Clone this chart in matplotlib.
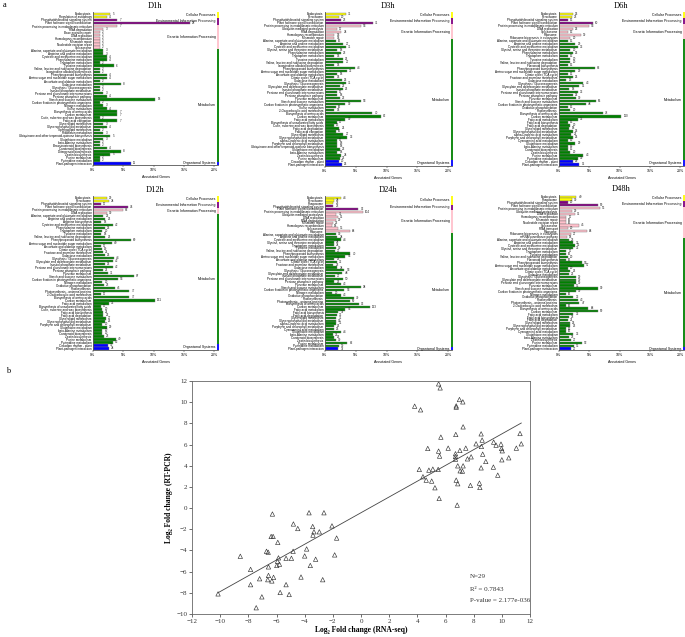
import numpy as np
import matplotlib.pyplot as plt

plt.rcParams['font.family'] = ['Liberation Sans', 'DejaVu Sans']
SERIF = ['Liberation Serif', 'DejaVu Serif']

W, H = 685, 637

cat_names = ['Cellular Processes', 'Environmental Information Processing',
             'Genetic Information Processing', 'Metabolism', 'Organismal Systems']
cat_colors = ['#FFFF00', '#800080', '#FFC0CB', '#008000', '#0000FF']

# ---- panel a data: pathway names, gene counts, pathways per category, total annotated genes
d1h_names = ['Endocytosis', 'Regulation of autophagy',
             'Phosphatidylinositol signaling system', 'Plant hormone signal transduction',
             'Protein processing in endoplasmic reticulum', 'RNA degradation', 'Base excision repair',
             'DNA replication', 'Homologous recombination', 'Mismatch repair',
             'Nucleotide excision repair', 'Spliceosome',
             'Alanine, aspartate and glutamate metabolism', 'Arginine and proline metabolism',
             'Cysteine and methionine metabolism', 'Phenylalanine metabolism', 'Tryptophan metabolism',
             'Tyrosine metabolism', 'Valine, leucine and isoleucine degradation',
             'Isoquinoline alkaloid biosynthesis', 'Phenylpropanoid biosynthesis',
             'Amino sugar and nucleotide sugar metabolism', 'Ascorbate and aldarate metabolism',
             'Galactose metabolism', 'Glycolysis / Gluconeogenesis', 'Inositol phosphate metabolism',
             'Pentose and glucuronate interconversions', 'Pentose phosphate pathway',
             'Starch and sucrose metabolism', 'Carbon fixation in photosynthetic organisms',
             'Nitrogen metabolism', 'Sulfur metabolism', 'Biosynthesis of amino acids',
             'Carbon metabolism', 'Cutin, suberine and wax biosynthesis', 'Fatty acid elongation',
             'Glycerolipid metabolism', 'Glycerophospholipid metabolism', 'Sphingolipid metabolism',
             'Riboflavin metabolism', 'Ubiquinone and other terpenoid-quinone biosynthesis',
             'Glutathione metabolism', 'beta-Alanine metabolism', 'Brassinosteroid biosynthesis',
             'Carotenoid biosynthesis', 'Diterpenoid biosynthesis', 'Zeatin biosynthesis',
             'Purine metabolism', 'Pyrimidine metabolism',
             'Plant-pathogen interaction']
d1h_counts = [5, 4, 7, 28, 7, 3, 2, 2, 2, 2, 2, 2,
              3, 3, 4, 4, 2, 6, 2, 2, 4, 4, 2, 8, 2, 2, 3, 4, 18, 2, 3, 4, 7, 7, 2, 7,
              3, 4, 2, 3, 5, 3, 2, 2, 4, 8, 5, 2, 2,
              11]
d1h_sizes = [2, 2, 8, 37, 1]
d1h_total = 175

d3h_names = ['Endocytosis', 'Peroxisome',
             'Phosphatidylinositol signaling system', 'Plant hormone signal transduction',
             'Protein processing in endoplasmic reticulum', 'Ubiquitin mediated proteolysis',
             'RNA degradation', 'Homologous recombination', 'Mismatch repair',
             'Alanine, aspartate and glutamate metabolism', 'Arginine and proline metabolism',
             'Cysteine and methionine metabolism', 'Glycine, serine and threonine metabolism',
             'Phenylalanine metabolism', 'Tryptophan metabolism', 'Tyrosine metabolism',
             'Valine, leucine and isoleucine degradation', 'Isoquinoline alkaloid biosynthesis',
             'Phenylpropanoid biosynthesis', 'Amino sugar and nucleotide sugar metabolism',
             'Ascorbate and aldarate metabolism', 'Citrate cycle (TCA cycle)', 'Galactose metabolism',
             'Glycolysis / Gluconeogenesis', 'Glyoxylate and dicarboxylate metabolism',
             'Inositol phosphate metabolism', 'Pentose and glucuronate interconversions',
             'Pentose phosphate pathway', 'Pyruvate metabolism', 'Starch and sucrose metabolism',
             'Carbon fixation in photosynthetic organisms', 'Sulfur metabolism',
             '2-Oxocarboxylic acid metabolism', 'Biosynthesis of amino acids', 'Carbon metabolism',
             'Fatty acid metabolism', 'Biosynthesis of unsaturated fatty acids',
             'Cutin, suberine and wax biosynthesis', 'Fatty acid degradation', 'Fatty acid elongation',
             'Glycerolipid metabolism', 'Glycerophospholipid metabolism',
             'alpha-Linolenic acid metabolism', 'Porphyrin and chlorophyll metabolism',
             'Ubiquinone and other terpenoid-quinone biosynthesis', 'Glutathione metabolism',
             'beta-Alanine metabolism', 'Zeatin biosynthesis', 'Purine metabolism',
             'Circadian rhythm - plant', 'Plant-pathogen interaction']
d3h_counts = [31, 20, 23, 71, 53, 17, 24, 14, 14,
              16, 27, 31, 18, 23, 14, 26, 27, 14, 44, 32, 18, 14, 25, 31, 22, 26, 17, 18, 22,
              53, 30, 16, 14, 70, 82, 30, 17, 13, 21, 16, 27, 33, 17, 18, 18, 22, 18, 24, 22,
              20, 25]
d3h_sizes = [2, 2, 5, 40, 2]
d3h_total = 910

d6h_names = ['Endocytosis', 'Peroxisome',
             'Phosphatidylinositol signaling system', 'Plant hormone signal transduction',
             'Protein processing in endoplasmic reticulum', 'DNA replication', 'Spliceosome',
             'Ribosome', 'Ribosome biogenesis in eukaryotes',
             'Alanine, aspartate and glutamate metabolism', 'Arginine and proline metabolism',
             'Cysteine and methionine metabolism', 'Glycine, serine and threonine metabolism',
             'Phenylalanine metabolism', 'Tryptophan metabolism', 'Tyrosine metabolism',
             'Valine, leucine and isoleucine degradation', 'Flavonoid biosynthesis',
             'Phenylpropanoid biosynthesis', 'Amino sugar and nucleotide sugar metabolism',
             'Citrate cycle (TCA cycle)', 'Fructose and mannose metabolism', 'Galactose metabolism',
             'Glycolysis / Gluconeogenesis', 'Glyoxylate and dicarboxylate metabolism',
             'Inositol phosphate metabolism', 'Pentose and glucuronate interconversions',
             'Pentose phosphate pathway', 'Pyruvate metabolism', 'Starch and sucrose metabolism',
             'Carbon fixation in photosynthetic organisms', 'Oxidative phosphorylation',
             'Photosynthesis', 'Biosynthesis of amino acids', 'Carbon metabolism',
             'Fatty acid metabolism', 'Fatty acid biosynthesis', 'Fatty acid degradation',
             'Glycerolipid metabolism', 'Glycerophospholipid metabolism',
             'alpha-Linolenic acid metabolism', 'Porphyrin and chlorophyll metabolism',
             'Cyanoamino acid metabolism', 'Glutathione metabolism', 'beta-Alanine metabolism',
             'Carotenoid biosynthesis', 'Zeatin biosynthesis', 'Purine metabolism',
             'Pyrimidine metabolism',
             'Circadian rhythm - plant', 'Plant-pathogen interaction']
d6h_counts = [25, 23, 15, 60, 53, 25, 15, 39, 20,
              15, 29, 33, 20, 25, 15, 20, 20, 15, 63, 29, 15, 25, 13, 43, 36, 18, 33, 25, 30,
              65, 48, 15, 20, 78, 110, 33, 15, 20, 18, 25, 22, 25, 15, 29, 15, 15, 20, 43, 33,
              25, 36]
d6h_sizes = [2, 2, 5, 40, 2]
d6h_total = 1070

d12h_names = ['Endocytosis', 'Peroxisome',
              'Phosphatidylinositol signaling system', 'Plant hormone signal transduction',
              'Protein processing in endoplasmic reticulum', 'DNA replication',
              'Alanine, aspartate and glutamate metabolism', 'Arginine and proline metabolism',
              'Arginine biosynthesis', 'Cysteine and methionine metabolism',
              'Phenylalanine metabolism', 'Tryptophan metabolism', 'Tyrosine metabolism',
              'Valine, leucine and isoleucine degradation', 'Phenylpropanoid biosynthesis',
              'Amino sugar and nucleotide sugar metabolism', 'Ascorbate and aldarate metabolism',
              'Citrate cycle (TCA cycle)', 'Fructose and mannose metabolism', 'Galactose metabolism',
              'Glycolysis / Gluconeogenesis', 'Glyoxylate and dicarboxylate metabolism',
              'Inositol phosphate metabolism', 'Pentose and glucuronate interconversions',
              'Pentose phosphate pathway', 'Pyruvate metabolism', 'Starch and sucrose metabolism',
              'Carbon fixation in photosynthetic organisms', 'Nitrogen metabolism',
              'Oxidative phosphorylation', 'Photosynthesis', 'Photosynthesis - antenna proteins',
              '2-Oxocarboxylic acid metabolism', 'Biosynthesis of amino acids', 'Carbon metabolism',
              'Fatty acid metabolism', 'Biosynthesis of unsaturated fatty acids',
              'Cutin, suberine and wax biosynthesis', 'Fatty acid biosynthesis',
              'Fatty acid degradation', 'Glycerolipid metabolism', 'Glycerophospholipid metabolism',
              'Porphyrin and chlorophyll metabolism', 'Glutathione metabolism',
              'beta-Alanine metabolism', 'Carotenoid biosynthesis', 'Zeatin biosynthesis',
              'Purine metabolism', 'Pyrimidine metabolism',
              'Circadian rhythm - plant', 'Plant-pathogen interaction']
d12h_counts = [29, 34, 17, 74, 63, 30,
               22, 26, 18, 42, 25, 20, 18, 26, 80, 40, 17, 19, 21, 25, 44, 42, 25, 42, 21, 31,
               87, 53, 20, 23, 46, 77, 17, 77, 131, 33, 17, 20, 21, 22, 27, 26, 20, 29, 20, 20,
               23, 49, 42,
               31, 34]
d12h_sizes = [2, 2, 2, 43, 2]
d12h_total = 1285

d24h_names = ['Endocytosis', 'Peroxisome', 'Phagosome',
              'Phosphatidylinositol signaling system', 'Plant hormone signal transduction',
              'Protein processing in endoplasmic reticulum', 'Ubiquitin mediated proteolysis',
              'DNA replication', 'RNA degradation', 'Mismatch repair', 'Homologous recombination',
              'Spliceosome', 'Ribosome',
              'Alanine, aspartate and glutamate metabolism', 'Arginine and proline metabolism',
              'Cysteine and methionine metabolism', 'Glycine, serine and threonine metabolism',
              'Tryptophan metabolism', 'Tyrosine metabolism',
              'Valine, leucine and isoleucine degradation', 'Phenylpropanoid biosynthesis',
              'Amino sugar and nucleotide sugar metabolism', 'Ascorbate and aldarate metabolism',
              'Citrate cycle (TCA cycle)', 'Fructose and mannose metabolism', 'Galactose metabolism',
              'Glycolysis / Gluconeogenesis', 'Glyoxylate and dicarboxylate metabolism',
              'Inositol phosphate metabolism', 'Pentose and glucuronate interconversions',
              'Pentose phosphate pathway', 'Pyruvate metabolism', 'Starch and sucrose metabolism',
              'Carbon fixation in photosynthetic organisms', 'Nitrogen metabolism',
              'Oxidative phosphorylation', 'Photosynthesis', 'Photosynthesis - antenna proteins',
              'Biosynthesis of amino acids', 'Carbon metabolism', 'Fatty acid metabolism',
              'Fatty acid biosynthesis', 'Fatty acid degradation', 'Glycerolipid metabolism',
              'Glycerophospholipid metabolism', 'alpha-Linolenic acid metabolism',
              'Porphyrin and chlorophyll metabolism', 'Cyanoamino acid metabolism',
              'Glutathione metabolism', 'beta-Alanine metabolism', 'Carotenoid biosynthesis',
              'Zeatin biosynthesis', 'Purine metabolism', 'Pyrimidine metabolism',
              'Plant-pathogen interaction']
d24h_counts = [44, 24, 23, 23, 92, 104, 31, 36, 29, 22, 18, 35, 68,
               30, 34, 44, 24, 24, 30, 27, 70, 56, 26, 32, 23, 34, 53, 48, 27, 50, 26, 43, 98,
               53, 20, 43, 79, 69, 93, 123, 56, 37, 32, 31, 30, 31, 26, 25, 44, 22, 26, 30, 62,
               39,
               37]
d24h_sizes = [3, 2, 8, 41, 1]
d24h_total = 1700

d48h_names = ['Endocytosis', 'Phagosome',
              'Phosphatidylinositol signaling system', 'Plant hormone signal transduction',
              'Protein processing in endoplasmic reticulum', 'Ubiquitin mediated proteolysis',
              'DNA replication', 'Homologous recombination', 'Mismatch repair',
              'Nucleotide excision repair', 'Spliceosome', 'RNA transport', 'Ribosome',
              'Ribosome biogenesis in eukaryotes', 'mRNA surveillance pathway',
              'Alanine, aspartate and glutamate metabolism', 'Arginine and proline metabolism',
              'Cysteine and methionine metabolism', 'Glycine, serine and threonine metabolism',
              'Tryptophan metabolism', 'Tyrosine metabolism',
              'Valine, leucine and isoleucine degradation', 'Flavonoid biosynthesis',
              'Phenylpropanoid biosynthesis', 'Amino sugar and nucleotide sugar metabolism',
              'Ascorbate and aldarate metabolism', 'Citrate cycle (TCA cycle)', 'Galactose metabolism',
              'Glycolysis / Gluconeogenesis', 'Glyoxylate and dicarboxylate metabolism',
              'Pentose and glucuronate interconversions', 'Pyruvate metabolism',
              'Starch and sucrose metabolism', 'Carbon fixation in photosynthetic organisms',
              'Nitrogen metabolism', 'Oxidative phosphorylation', 'Photosynthesis',
              'Photosynthesis - antenna proteins', '2-Oxocarboxylic acid metabolism',
              'Biosynthesis of amino acids', 'Carbon metabolism', 'Fatty acid metabolism',
              'Fatty acid biosynthesis', 'Fatty acid degradation', 'Glycerolipid metabolism',
              'Glycerophospholipid metabolism', 'Porphyrin and chlorophyll metabolism',
              'Cyanoamino acid metabolism', 'Glutathione metabolism', 'beta-Alanine metabolism',
              'Zeatin biosynthesis', 'Purine metabolism', 'Pyrimidine metabolism',
              'Plant-pathogen interaction']
d48h_counts = [40, 30, 20, 89, 95, 29, 36, 17, 16, 16, 45, 20, 64, 27, 18,
               23, 33, 36, 33, 17, 16, 20, 16, 53, 57, 20, 26, 22, 39, 39, 39, 35, 90, 39, 16,
               33, 43, 47, 16, 68, 89, 33, 23, 21, 25, 26, 15, 16, 33, 23, 27, 52, 35,
               27]
d48h_sizes = [2, 2, 11, 38, 1]
d48h_total = 1400

# ---- panel b data: log2 fold change, RNA-seq vs RT-PCR
rna_seq = [-10.15, -8.57, -7.84, -7.84, -7.2, -7.04, -7.44, -6.71, -6.59, -6.57, -6.57, -6.62,
           -6.33, -6.21, -6.38, -6.24, -6.29, -5.91, -5.86, -5.93, -5.98, -5.79, -5.74, -5.32,
           -5.32, -5.1, -4.94, -4.8, -4.82, -4.49, -4.26, -4.0, -3.86, -3.69, -3.6, -3.43, -3.41,
           -3.34, -3.22, -2.96, -2.72, -2.63, -2.06, -1.87, -1.73,
           5.51, 5.62, 3.81, 4.23, 6.76, 6.76, 6.99, 7.23, 7.25, 6.73, 5.67, 8.53, 11.29, 8.6,
           9.42, 8.17, 9.94, 11.38, 8.55, 9.59, 9.98, 10.03, 11.03, 4.74, 6.19, 5.51, 5.58, 7.44,
           7.02, 6.71, 6.71, 8.64, 7.56, 7.82, 10.49, 10.0, 8.86, 6.71, 4.14, 4.82, 5.1, 5.48,
           6.87, 7.25, 7.2, 7.04, 8.53, 9.4, 9.71, 4.4, 4.63, 5.02, 5.25, 6.76, 6.87, 7.77, 8.41,
           8.44, 5.55, 6.83]
rt_pcr = [-8.1, -4.55, -5.79, -7.23, -6.67, -8.38, -9.41, -4.08, -4.17, -5.55, -6.36, -6.76,
          -6.88, -6.54, -2.68, -2.68, -0.56, -3.24, -4.7, -5.02, -5.42, -5.3, -7.97, -4.74,
          -7.23, -8.16, -4.74, -1.5, -4.08, -1.93, -6.51, -4.52, -3.86, -0.44, -5.42, -1.74,
          -2.55, -2.24, -4.83, -2.24, -6.76, -0.44, -1.68, -4.42, -2.83,
          11.73, 11.35, 9.62, 9.28, 9.65, 9.53, 10.25, 10.03, 7.67, 6.95, 6.7, 7.01, 7.04, 6.42,
          6.23, 6.07, 6.04, 6.07, 5.82, 5.94, 5.63, 5.41, 5.66, 5.63, 5.66, 5.38, 4.91, 5.66,
          5.44, 5.13, 4.87, 5.09, 4.65, 4.84, 4.75, 4.56, 4.4, 4.62, 3.65, 3.58, 3.68, 3.65,
          3.99, 3.99, 3.49, 3.52, 3.8, 3.87, 3.11, 2.96, 2.64, 2.55, 1.92, 2.64, 2.3, 2.14, 2.36,
          1.95, 0.91, 0.28]
stats_text = ['N=29', 'R\u00b2 = 0.7843', 'P-value = 2.177e-036']

fig = plt.figure(figsize=(W / 100, H / 100), dpi=100)


def px_axes(left, top, right, bottom):
    return fig.add_axes([left / W, 1 - bottom / H, (right - left) / W, (bottom - top) / H])


def kegg_panel(ax, title, names, counts, sizes, total):
    pct = np.array(counts) / total * 100
    y = np.arange(len(names))
    colors = np.repeat(cat_colors, sizes)
    ax.barh(y, pct, height=0.82, color=colors, edgecolor='#777777', linewidth=0.3)
    for yi, p, c in zip(y, pct, counts):
        ax.text(p + 0.35, yi, str(c), fontsize=2.2, va='center', color='#222222')
    ax.set_yticks(y)
    ax.set_yticklabels(names, fontsize=2.2)
    ax.set_ylim(len(names) - 0.5, -0.6)
    ax.set_xlim(0, 20.6)
    ax.set_xticks([0, 5, 10, 15, 20])
    ax.set_xticklabels(['0%', '5%', '10%', '15%', '20%'], fontsize=2.6)
    ax.set_xlabel('Annotated Genes', fontsize=2.6, labelpad=1.5)
    ax.tick_params(axis='y', length=0, pad=1)
    ax.tick_params(axis='x', length=1.5, width=0.3, pad=1)
    for s in ['top', 'right']:
        ax.spines[s].set_visible(False)
    for s in ['left', 'bottom']:
        ax.spines[s].set_linewidth(0.6)
        ax.spines[s].set_color('#555555')
    ax.set_title(title, fontsize=6, family=SERIF, pad=3)
    start = 0
    for name, color, n in zip(cat_names, cat_colors, sizes):
        ax.plot([20.6, 20.6], [start - 0.5, start + n - 0.5], color=color, lw=1.3,
                clip_on=False, solid_capstyle='butt')
        ax.text(20.2, start + (n - 1) / 2, name, fontsize=2.5, ha='right', va='center')
        start += n


panels = [
    ((93, 12, 218, 165), 'D1h', d1h_names, d1h_counts, d1h_sizes, d1h_total),
    ((325, 12, 452, 166), 'D3h', d3h_names, d3h_counts, d3h_sizes, d3h_total),
    ((559, 12, 684, 166), 'D6h', d6h_names, d6h_counts, d6h_sizes, d6h_total),
    ((93, 196, 218, 350), 'D12h', d12h_names, d12h_counts, d12h_sizes, d12h_total),
    ((325, 196, 452, 350), 'D24h', d24h_names, d24h_counts, d24h_sizes, d24h_total),
    ((559, 195, 684, 350), 'D48h', d48h_names, d48h_counts, d48h_sizes, d48h_total),
]
for box, title, names, counts, sizes, total in panels:
    kegg_panel(px_axes(*box), title, names, counts, sizes, total)

# ---- panel b: scatter with regression line
axb = px_axes(192, 381, 530, 614)
axb.scatter(rna_seq, rt_pcr, marker='^', s=10, facecolors='none', edgecolors='#333333',
            linewidths=0.45)
slope, icpt = np.polyfit(rna_seq, rt_pcr, 1)
xx = np.array([min(rna_seq), max(rna_seq)])
axb.plot(xx, icpt + slope * xx, color='#444444', lw=0.6)
axb.set_xlim(-12, 12)
axb.set_ylim(-10, 12)
axb.set_xticks(np.arange(-12, 13, 2))
axb.set_yticks(np.arange(-10, 13, 2))
for lab in axb.get_xticklabels() + axb.get_yticklabels():
    lab.set_family(SERIF)
    lab.set_fontsize(5)
axb.tick_params(length=2, width=0.5, pad=1.5, colors='#333333')
for s in axb.spines.values():
    s.set_linewidth(0.6)
    s.set_color('#666666')
axb.set_xlabel('Log\u2082 Fold change (RNA-seq)', family=SERIF, fontsize=5.5,
               fontweight='bold', labelpad=1.5)
axb.set_ylabel('Log\u2082 Fold change (RT-PCR)', family=SERIF, fontsize=5.5,
               fontweight='bold', labelpad=2)
for txt, yf in zip(stats_text, [0.159, 0.107, 0.056]):
    axb.text(0.822, yf, txt, transform=axb.transAxes, family=SERIF, fontsize=5,
             va='center', color='#333333')

fig.text(3 / W, 1 - 5 / H, 'a', family=SERIF, fontsize=6, va='center')
fig.text(6 / W, 1 - 371 / H, 'b', family=SERIF, fontsize=6, va='center')

fig.savefig('out.png', dpi=100)
